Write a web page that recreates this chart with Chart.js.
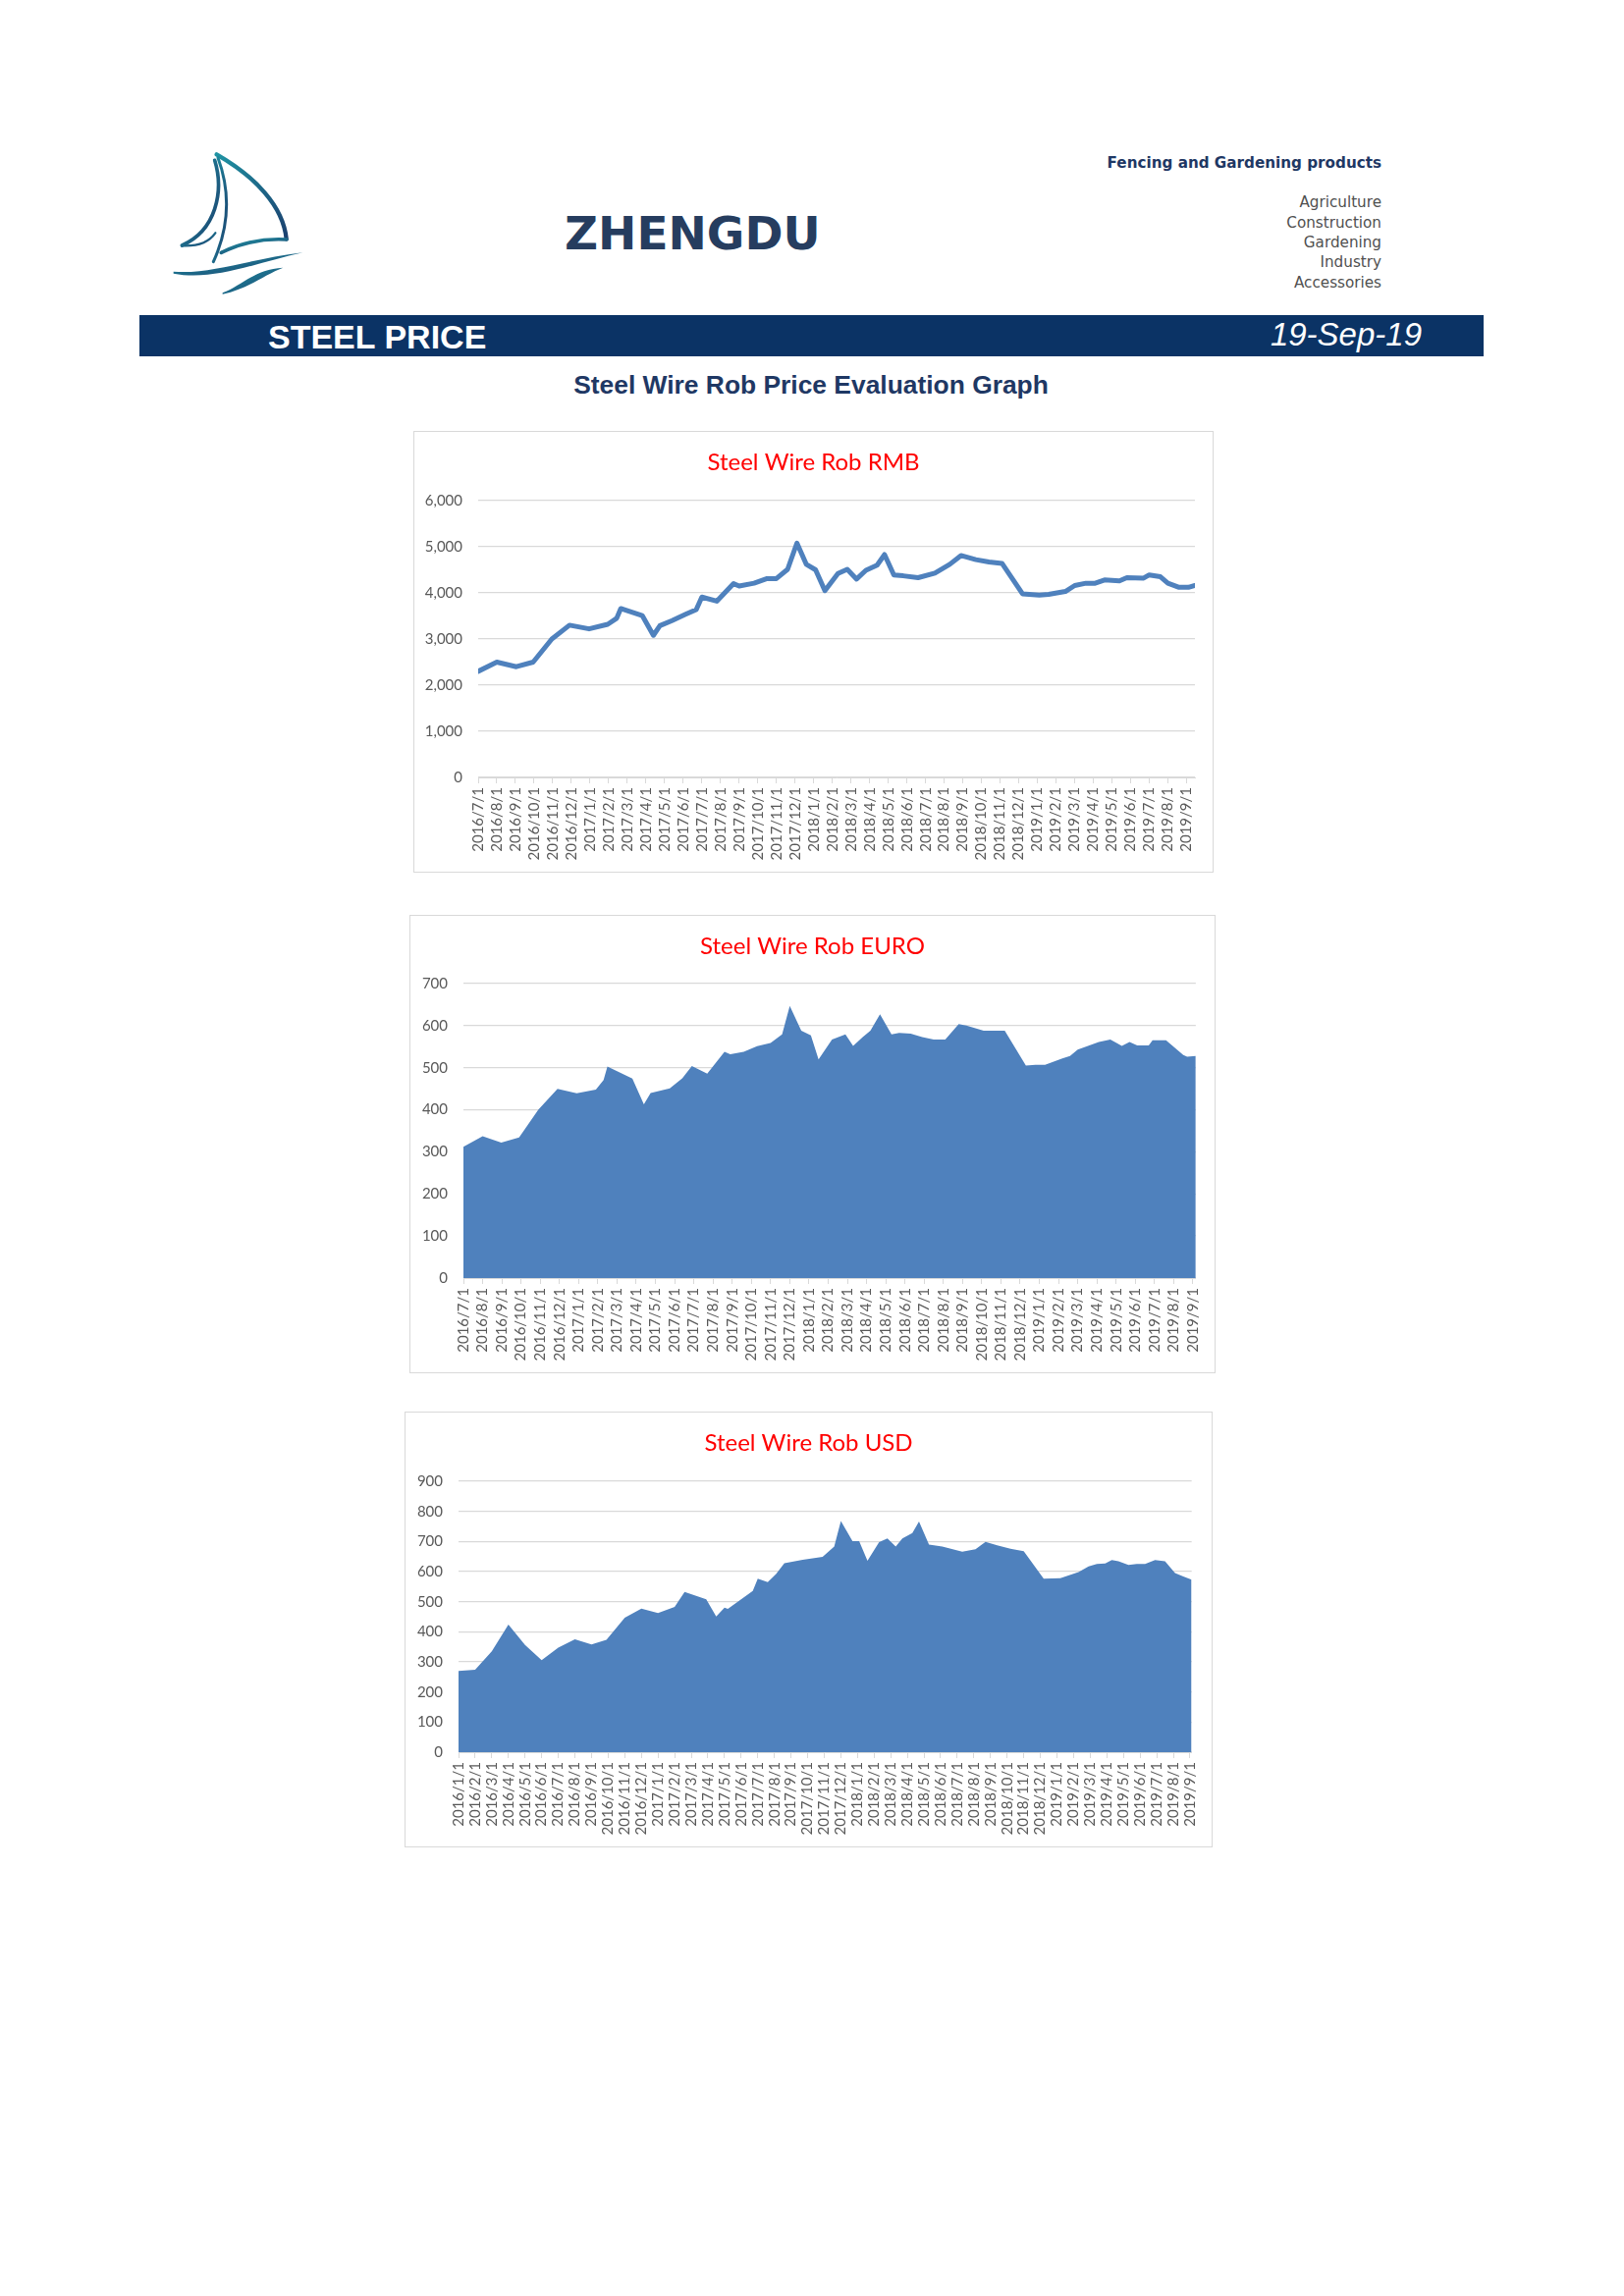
<!DOCTYPE html>
<html>
<head>
<meta charset="utf-8">
<script src="https://cdn.jsdelivr.net/npm/chart.js@4.4.1/dist/chart.umd.min.js"></script>
<style>
  body { margin: 0; background: #fff; }
  #page { position: relative; width: 1654px; height: 2339px; background: #fff; overflow: hidden; }
  .txt { position: absolute; white-space: nowrap; line-height: 1; }
  .cat { position: absolute; right: 247px; white-space: nowrap; line-height: 1; font: 15.2px 'DejaVu Sans'; color: #505050; }
  .box { position: absolute; border: 1px solid #d9d9d9; background: #fff; }
  .box canvas { display: block; }
</style>
</head>
<body>
<div id="page">

  <svg style="position:absolute; left:160px; top:140px" width="180" height="180" viewBox="0 0 540 540">
    <defs>
      <linearGradient id="sea" x1="0" y1="0" x2="1" y2="1">
        <stop offset="0" stop-color="#1f93a3"/>
        <stop offset="1" stop-color="#1b3f6e"/>
      </linearGradient>
    </defs>
    <g fill="none" stroke="url(#sea)" stroke-linecap="round">
      <path d="M182,52 C300,120 385,210 395,310" stroke-width="13"/>
      <path d="M186,62 C222,160 222,270 172,380" stroke-width="9"/>
      <path d="M196,352 C262,320 330,308 396,312" stroke-width="11"/>
      <path d="M176,70 C205,165 180,285 76,330" stroke-width="11"/>
      <path d="M78,331 C125,333 160,318 178,292" stroke-width="7"/>
    </g>
    <path d="M50,410 C160,420 280,372 445,352 C300,384 170,440 50,416 Z" fill="url(#sea)"/>
    <path d="M200,475 C260,452 300,402 385,398 C330,418 280,462 200,479 Z" fill="url(#sea)"/>
  </svg>

  <div class="txt" style="left:575px; top:210px; font:bold 47px 'DejaVu Sans'; color:#263d5f;">ZHENGDU</div>

  <div class="txt" style="right:247px; top:156.5px; font:bold 15.2px 'DejaVu Sans'; color:#1f3864;">Fencing and Gardening products</div>
  <div class="cat" style="top:196.5px;">Agriculture</div>
  <div class="cat" style="top:217.5px;">Construction</div>
  <div class="cat" style="top:237.5px;">Gardening</div>
  <div class="cat" style="top:258px;">Industry</div>
  <div class="cat" style="top:279px;">Accessories</div>

  <div style="position:absolute; left:142px; top:321px; width:1369px; height:42px; background:#0b3365;"></div>
  <div class="txt" style="left:273px; top:324px; font:bold 34px 'Liberation Sans'; color:#fff;">STEEL PRICE</div>
  <div class="txt" style="right:206px; top:322px; font:italic 33px 'Liberation Sans'; color:#fff;">19-Sep-19</div>

  <div class="txt" style="left:326px; width:1000px; text-align:center; top:377px; font:bold 26.4px 'Liberation Sans'; color:#1f3864;">Steel Wire Rob Price Evaluation Graph</div>

  <div class="box" style="left:421px; top:439px;"><canvas id="rmbChart" width="813" height="448"></canvas></div>
  <div class="box" style="left:417px; top:932px;"><canvas id="euroChart" width="819" height="465"></canvas></div>
  <div class="box" style="left:412px; top:1438px;"><canvas id="usdChart" width="821" height="442"></canvas></div>
</div>

<script>
// month tick labels (date axis, one tick per month)
const monthLabels = ["2016/7/1", "2016/8/1", "2016/9/1", "2016/10/1", "2016/11/1", "2016/12/1",
  "2017/1/1", "2017/2/1", "2017/3/1", "2017/4/1", "2017/5/1", "2017/6/1", "2017/7/1", "2017/8/1",
  "2017/9/1", "2017/10/1", "2017/11/1", "2017/12/1", "2018/1/1", "2018/2/1", "2018/3/1", "2018/4/1",
  "2018/5/1", "2018/6/1", "2018/7/1", "2018/8/1", "2018/9/1", "2018/10/1", "2018/11/1", "2018/12/1",
  "2019/1/1", "2019/2/1", "2019/3/1", "2019/4/1", "2019/5/1", "2019/6/1", "2019/7/1", "2019/8/1", "2019/9/1"];

const usdLabels = ["2016/1/1", "2016/2/1", "2016/3/1", "2016/4/1", "2016/5/1", "2016/6/1",
  "2016/7/1", "2016/8/1", "2016/9/1", "2016/10/1", "2016/11/1", "2016/12/1",
  "2017/1/1", "2017/2/1", "2017/3/1", "2017/4/1", "2017/5/1", "2017/6/1", "2017/7/1", "2017/8/1",
  "2017/9/1", "2017/10/1", "2017/11/1", "2017/12/1", "2018/1/1", "2018/2/1", "2018/3/1", "2018/4/1",
  "2018/5/1", "2018/6/1", "2018/7/1", "2018/8/1", "2018/9/1", "2018/10/1", "2018/11/1", "2018/12/1",
  "2019/1/1", "2019/2/1", "2019/3/1", "2019/4/1", "2019/5/1", "2019/6/1", "2019/7/1", "2019/8/1", "2019/9/1"];

// RMB: position in months from 2016/7/1, price
const rmbMonth = [0, 1.0, 2.05, 2.95, 3.95, 4.9, 5.95, 6.95, 7.43, 7.65, 8.8, 9.4, 9.75, 10.4, 11.1,
  11.7, 12.0, 12.8, 13.7, 14.0, 14.8, 15.5, 16.0, 16.6, 17.1, 17.6, 18.1, 18.6, 19.3, 19.8,
  20.3, 20.8, 21.4, 21.8, 22.3, 22.8, 23.6, 24.5, 25.3, 25.9, 26.7, 27.4, 28.1, 29.2, 30.1,
  30.6, 31.5, 32.0, 32.6, 33.1, 33.6, 34.4, 34.8, 35.7, 36.0, 36.6, 37.0, 37.6, 38.1, 38.45];
const rmbPrice = [2300, 2500, 2400, 2500, 3000, 3300, 3220, 3320, 3450, 3660, 3510, 3080, 3290, 3400, 3530,
  3640, 3910, 3820, 4200, 4150, 4210, 4310, 4310, 4510, 5080, 4620, 4500, 4050, 4420, 4510,
  4300, 4490, 4600, 4830, 4390, 4370, 4330, 4430, 4620, 4810, 4720, 4670, 4640, 3980, 3950,
  3970, 4030, 4160, 4210, 4210, 4280, 4260, 4330, 4320, 4390, 4350, 4210, 4120, 4120, 4160];

// EURO: position in months from 2016/7/1, price
const euroMonth = [0, 1.0, 1.97, 2.9, 3.9, 4.9, 5.9, 6.9, 7.3, 7.5, 8.8, 9.4, 9.75, 10.75, 11.4,
  11.9, 12.7, 13.6, 13.9, 14.6, 15.3, 16.0, 16.6, 17.0, 17.6, 18.1, 18.5, 19.2, 19.9, 20.3,
  20.8, 21.2, 21.7, 22.3, 22.7, 23.3, 23.9, 24.5, 25.1, 25.8, 26.2, 27.1, 28.2, 29.3, 29.8,
  30.3, 31.2, 31.6, 32.0, 32.5, 33.1, 33.7, 34.3, 34.7, 35.1, 35.7, 35.9, 36.6, 37.5, 37.7, 38.15];
const euroPrice = [312, 337, 322, 334, 400, 450, 439, 448, 471, 503, 474, 413, 440, 451, 475,
  504, 486, 538, 532, 538, 551, 559, 579, 647, 588, 577, 520, 567, 579, 552,
  573, 588, 627, 579, 583, 581, 573, 567, 567, 604, 600, 588, 588, 505, 507,
  507, 522, 528, 543, 551, 561, 567, 552, 561, 553, 553, 565, 565, 530, 526, 528];

// USD: position in months from 2016/1/1, price
const usdMonth = [0, 1.0, 2.0, 3.0, 4.0, 5.0, 6.0, 7.0, 8.0, 8.9, 10.0, 11.0, 12.0, 13.0, 13.6,
  14.9, 15.5, 16.0, 16.2, 17.7, 18.0, 18.6, 19.1, 19.6, 20.7, 21.9, 22.6, 23.0, 23.7, 24.1,
  24.6, 25.3, 25.8, 26.3, 26.7, 27.3, 27.7, 28.3, 29.1, 30.3, 31.1, 31.7, 32.4, 33.2, 34.0,
  35.2, 36.2, 37.3, 37.9, 38.4, 38.9, 39.3, 39.7, 40.3, 40.8, 41.3, 41.9, 42.5, 43.1, 43.6, 44.1];
const usdPrice = [270, 274, 335, 424, 356, 306, 347, 375, 358, 373, 447, 477, 462, 483, 532,
  508, 451, 480, 476, 536, 576, 565, 592, 628, 639, 649, 683, 768, 701, 701,
  636, 698, 710, 683, 710, 728, 766, 690, 683, 666, 674, 699, 687, 676, 668,
  576, 578, 598, 617, 625, 627, 638, 634, 622, 625, 625, 638, 634, 595, 584, 573];

const blue = "#4f81bd";
const gridGray = "#d9d9d9";
const tickGray = "#595959";

function buildChart(canvasId, opts) {
    var ctx = document.getElementById(canvasId).getContext("2d");
    var points = opts.months.map((m, i) => ({ x: m, y: opts.prices[i] }));
    var titleSize = 24;
    var titleTop = 31 - titleSize * 0.6;

    return new Chart(ctx, {
        type: "line",
        data: {
            datasets: [{
                data: points,
                borderColor: blue,
                backgroundColor: blue,
                borderWidth: opts.area ? 0 : 5,
                borderJoinStyle: "round",
                borderCapStyle: "round",
                fill: opts.area ? "origin" : false,
                pointRadius: 0,
                tension: 0
            }]
        },
        options: {
            responsive: false,
            animation: false,
            layout: { padding: 0 },
            plugins: {
                legend: { display: false },
                tooltip: { enabled: false },
                title: {
                    display: true,
                    text: opts.title,
                    color: "#ff0000",
                    font: { family: "Lato", size: titleSize, weight: "normal", lineHeight: 1.2 },
                    padding: { top: titleTop, bottom: opts.plotTop - titleTop - titleSize * 1.2 }
                }
            },
            scales: {
                x: {
                    type: "linear",
                    min: 0,
                    max: opts.xMax,
                    afterFit: function (axis) { axis.height = 96; },
                    grid: { drawOnChartArea: false, color: gridGray, tickLength: 6 },
                    border: { color: gridGray, width: 1 },
                    ticks: {
                        stepSize: 1,
                        maxTicksLimit: 100,
                        includeBounds: false,
                        autoSkip: false,
                        maxRotation: 90,
                        minRotation: 90,
                        padding: 4,
                        color: tickGray,
                        font: { family: "Lato", size: 15 },
                        callback: (v) => opts.labels[v]
                    }
                },
                y: {
                    min: 0,
                    max: opts.yMax,
                    afterFit: function (axis) { axis.width = opts.plotLeft; },
                    grid: { color: gridGray, lineWidth: 1.3, drawTicks: false },
                    border: { display: false },
                    ticks: {
                        stepSize: opts.yStep,
                        padding: 16,
                        color: tickGray,
                        font: { family: "Lato", size: 15 },
                        callback: (v) => v.toLocaleString("en-US")
                    }
                },
                // empty right-hand axis, only keeps the white margin right of the plot
                margin: {
                    position: "right",
                    min: 0,
                    max: opts.yMax,
                    afterFit: function (axis) { axis.width = opts.rightPad; },
                    grid: { display: false },
                    border: { display: false },
                    ticks: { display: false }
                }
            }
        }
    });
}

buildChart("rmbChart", {
    title: "Steel Wire Rob RMB", months: rmbMonth, prices: rmbPrice, labels: monthLabels,
    area: false, xMax: 38.45, yMax: 6000, yStep: 1000, plotLeft: 65, plotTop: 70, rightPad: 18
});
buildChart("euroChart", {
    title: "Steel Wire Rob EURO", months: euroMonth, prices: euroPrice, labels: monthLabels,
    area: true, xMax: 38.15, yMax: 700, yStep: 100, plotLeft: 54, plotTop: 69, rightPad: 19
});
buildChart("usdChart", {
    title: "Steel Wire Rob USD", months: usdMonth, prices: usdPrice, labels: usdLabels,
    area: true, xMax: 44.1, yMax: 900, yStep: 100, plotLeft: 54, plotTop: 70, rightPad: 19
});
</script>
</body>
</html>
